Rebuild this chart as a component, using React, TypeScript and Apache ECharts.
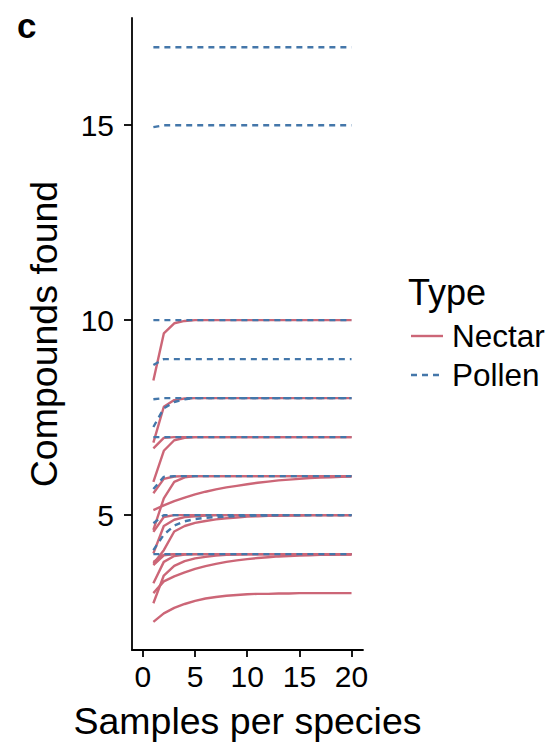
import React, { useEffect, useRef } from "react";
import * as echarts from "echarts";

// Samples per species (x)
const samples = [1, 2, 3, 4, 5, 6, 7, 8, 9, 10, 11, 12, 13, 14, 15, 16, 17, 18, 19, 20];

// Tick labels
const xTicks = [0, 5, 10, 15, 20];
const yTicks = [5, 10, 15];

// Nectar rarefaction curves (compounds found per sample count)
const nectarA = [8.45, 9.66, 9.92, 9.98, 10, 10, 10, 10, 10, 10, 10, 10, 10, 10, 10, 10, 10, 10, 10, 10];
const nectarB = [6.86, 7.78, 7.95, 7.99, 8, 8, 8, 8, 8, 8, 8, 8, 8, 8, 8, 8, 8, 8, 8, 8];
const nectarC = [6.71, 6.98, 7, 7, 7, 7, 7, 7, 7, 7, 7, 7, 7, 7, 7, 7, 7, 7, 7, 7];
const nectarD = [5.85, 6.65, 6.92, 6.98, 7, 7, 7, 7, 7, 7, 7, 7, 7, 7, 7, 7, 7, 7, 7, 7];
const nectarE = [5.56, 5.93, 5.99, 6, 6, 6, 6, 6, 6, 6, 6, 6, 6, 6, 6, 6, 6, 6, 6, 6];
const nectarF = [5.13, 5.25, 5.36, 5.45, 5.53, 5.6, 5.66, 5.71, 5.75, 5.79, 5.83, 5.86, 5.89, 5.91, 5.93, 5.95, 5.96, 5.97, 5.98, 5.99];
const nectarG = [4.62, 5.43, 5.85, 5.97, 6, 6, 6, 6, 6, 6, 6, 6, 6, 6, 6, 6, 6, 6, 6, 6];
const nectarH = [4.57, 4.95, 5, 5, 5, 5, 5, 5, 5, 5, 5, 5, 5, 5, 5, 5, 5, 5, 5, 5];
const nectarI = [4.02, 4.72, 4.88, 4.95, 4.97, 4.99, 5, 5, 5, 5, 5, 5, 5, 5, 5, 5, 5, 5, 5, 5];
const nectarJ = [3.75, 4.1, 4.58, 4.72, 4.8, 4.85, 4.89, 4.92, 4.94, 4.96, 4.97, 4.98, 4.98, 4.99, 4.99, 5, 5, 5, 5, 5];
const nectarK = [3.72, 3.97, 4, 4, 4, 4, 4, 4, 4, 4, 4, 4, 4, 4, 4, 4, 4, 4, 4, 4];
const nectarL = [3.8, 3.98, 4, 4, 4, 4, 4, 4, 4, 4, 4, 4, 4, 4, 4, 4, 4, 4, 4, 4];
const nectarM = [2.74, 3.45, 3.7, 3.82, 3.89, 3.93, 3.96, 3.98, 3.99, 4, 4, 4, 4, 4, 4, 4, 4, 4, 4, 4];
const nectarN = [3.0, 3.3, 3.43, 3.53, 3.62, 3.69, 3.75, 3.8, 3.84, 3.87, 3.9, 3.92, 3.94, 3.95, 3.96, 3.97, 3.98, 3.98, 3.99, 3.99];
const nectarO = [3.25, 3.8, 3.95, 3.99, 4, 4, 4, 4, 4, 4, 4, 4, 4, 4, 4, 4, 4, 4, 4, 4];
const nectarP = [2.26, 2.48, 2.62, 2.72, 2.8, 2.86, 2.9, 2.93, 2.95, 2.97, 2.98, 2.98, 2.99, 2.99, 3, 3, 3, 3, 3, 3];

// Pollen rarefaction curves
const pollenA = [17, 17, 17, 17, 17, 17, 17, 17, 17, 17, 17, 17, 17, 17, 17, 17, 17, 17, 17, 17];
const pollenB = [14.95, 15, 15, 15, 15, 15, 15, 15, 15, 15, 15, 15, 15, 15, 15, 15, 15, 15, 15, 15];
const pollenC = [10, 10, 10, 10, 10, 10, 10, 10, 10, 10, 10, 10, 10, 10, 10, 10, 10, 10, 10, 10];
const pollenD = [8.85, 9, 9, 9, 9, 9, 9, 9, 9, 9, 9, 9, 9, 9, 9, 9, 9, 9, 9, 9];
const pollenE = [7.26, 7.74, 7.9, 7.97, 8, 8, 8, 8, 8, 8, 8, 8, 8, 8, 8, 8, 8, 8, 8, 8];
const pollenF = [7.97, 8, 8, 8, 8, 8, 8, 8, 8, 8, 8, 8, 8, 8, 8, 8, 8, 8, 8, 8];
const pollenG = [7, 7, 7, 7, 7, 7, 7, 7, 7, 7, 7, 7, 7, 7, 7, 7, 7, 7, 7, 7];
const pollenH = [5.67, 5.98, 6, 6, 6, 6, 6, 6, 6, 6, 6, 6, 6, 6, 6, 6, 6, 6, 6, 6];
const pollenI = [4.79, 5, 5, 5, 5, 5, 5, 5, 5, 5, 5, 5, 5, 5, 5, 5, 5, 5, 5, 5];
const pollenJ = [4.1, 4.5, 4.73, 4.84, 4.9, 4.93, 4.95, 4.96, 4.97, 4.98, 4.99, 4.99, 5, 5, 5, 5, 5, 5, 5, 5];
const pollenK = [4, 4, 4, 4, 4, 4, 4, 4, 4, 4, 4, 4, 4, 4, 4, 4, 4, 4, 4, 4];

const nectarCurves = [nectarA, nectarB, nectarC, nectarD, nectarE, nectarF, nectarG, nectarH, nectarI, nectarJ, nectarK, nectarL, nectarM, nectarN, nectarO, nectarP];
const pollenCurves = [pollenA, pollenB, pollenC, pollenD, pollenE, pollenF, pollenG, pollenH, pollenI, pollenJ, pollenK];

const types = ["Nectar", "Pollen"];
const NECTAR = "#CC6677";
const POLLEN = "#4477AA";
const FONT = "'Liberation Sans', Arial, sans-serif";
const LINE_W = 2.4;
const DASH = [6, 5];

export default function App() {
  const ref = useRef<HTMLDivElement>(null);

  useEffect(() => {
    if (!ref.current) return;
    const chart = echarts.init(ref.current, null, { renderer: "svg" });

    const toPoints = (vals: number[]) => samples.map((s, i) => [s, vals[i]]);

    const series: any[] = [
      ...nectarCurves.map((c, i) => ({
        type: "line",
        name: types[0],
        id: "nectar" + i,
        data: toPoints(c),
        showSymbol: false,
        symbol: "none",
        lineStyle: { color: NECTAR, width: LINE_W, type: "solid" },
        z: 2,
      })),
      ...pollenCurves.map((c, i) => ({
        type: "line",
        name: types[1],
        id: "pollen" + i,
        data: toPoints(c),
        showSymbol: false,
        symbol: "none",
        lineStyle: { color: POLLEN, width: LINE_W, type: DASH },
        z: 3,
      })),
    ];

    const axisCommon = {
      type: "value",
      splitLine: { show: false },
      axisLine: { show: true, onZero: false, lineStyle: { color: "#000", width: 1.8 } },
    };

    chart.setOption({
      animation: false,
      backgroundColor: "#fff",
      grid: { left: 132, right: 190, top: 18, bottom: 96 },
      xAxis: {
        ...axisCommon,
        min: -1.05,
        max: 21.1,
        axisTick: { show: true, customValues: xTicks, length: 7, lineStyle: { color: "#000", width: 1.8 } },
        axisLabel: { customValues: xTicks, color: "#000", fontSize: 30, fontFamily: FONT, margin: 11 },
        name: "Samples per species",
        nameLocation: "middle",
        nameGap: 52,
        nameTextStyle: { color: "#000", fontSize: 37.5, fontFamily: FONT },
      },
      yAxis: {
        ...axisCommon,
        min: 1.54,
        max: 17.75,
        axisTick: { show: true, customValues: yTicks, length: 8, lineStyle: { color: "#000", width: 1.8 } },
        axisLabel: { customValues: yTicks, color: "#000", fontSize: 30, fontFamily: FONT, margin: 18 },
        name: "Compounds found",
        nameLocation: "middle",
        nameGap: 69,
        nameTextStyle: { color: "#000", fontSize: 37.5, fontFamily: FONT },
      },
      series,
      graphic: [
        { type: "text", left: 17, top: 8, style: { text: "c", font: `bold 35px ${FONT}`, fill: "#000" } },
        { type: "text", x: 408, y: 292, style: { text: "Type", font: `36px ${FONT}`, fill: "#000", verticalAlign: "middle" } },
        { type: "line", shape: { x1: 411, y1: 336, x2: 443, y2: 336 }, style: { stroke: NECTAR, lineWidth: LINE_W } },
        { type: "text", x: 452, y: 336, style: { text: types[0], font: `31.5px ${FONT}`, fill: "#000", verticalAlign: "middle" } },
        { type: "line", shape: { x1: 411, y1: 375, x2: 443, y2: 375 }, style: { stroke: POLLEN, lineWidth: LINE_W, lineDash: DASH } },
        { type: "text", x: 452, y: 375, style: { text: types[1], font: `31.5px ${FONT}`, fill: "#000", verticalAlign: "middle" } },
      ],
    });

    return () => chart.dispose();
  }, []);

  return (
    <div
      ref={ref}
      style={{ position: "fixed", left: 0, top: 0, width: 553, height: 746, background: "#fff" }}
    />
  );
}
